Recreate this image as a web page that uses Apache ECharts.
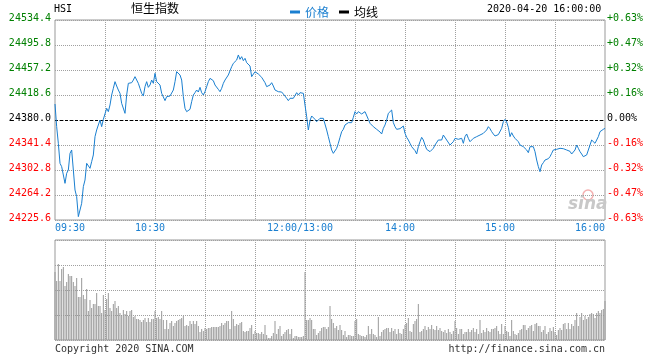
<!DOCTYPE html>
<html>
<head>
<meta charset="utf-8">
<script src="https://cdn.jsdelivr.net/npm/echarts@6/dist/echarts.min.js"></script>
<style>
html,body{margin:0;padding:0;background:#fff;}
#c{width:660px;height:360px;}
</style>
</head>
<body>
<div id="c"></div>
<script>
// ---- data ----
const prevClose = 24380.0;
const priceMin = 24225.6;
const priceMax = 24534.4;
const priceStep = 38.6;
const tickCats = ['09:30', '10:30', '12:00', '14:00', '15:00', '16:00'];
const tickText = ['09:30', '10:30', '12:00/13:00', '14:00', '15:00', '16:00'];

const price = [
24404.7,24369.7,24344.0,24313.1,24308.0,24310.5,24282.2,24297.7,24302.8,24328.5,
24333.7,24302.8,24271.9,24261.6,24230.8,24228.2,24251.3,24277.1,24287.3,24313.1,
24315.7,24305.4,24315.7,24326.0,24354.3,24364.6,24372.3,24380.0,24369.7,24381.0,
24382.6,24398.0,24392.9,24403.2,24418.6,24428.9,24439.2,24432.5,24426.3,24421.2,
24405.7,24408.3,24390.3,24418.6,24436.6,24439.2,24437.6,24441.7,24446.9,24444.3,
24436.6,24428.9,24421.2,24417.0,24431.5,24439.2,24430.4,24434.0,24441.7,24436.6,
24452.1,24439.2,24441.7,24434.0,24421.2,24422.2,24409.9,24416.0,24416.0,24417.0,
24418.6,24426.3,24439.2,24454.6,24456.2,24449.5,24441.7,24416.0,24398.0,24392.9,
24392.9,24396.5,24408.3,24418.6,24422.2,24426.3,24423.2,24430.4,24422.2,24418.6,
24423.7,24431.5,24439.2,24444.3,24446.9,24440.7,24434.0,24432.5,24427.3,24423.7,
24428.9,24436.6,24441.7,24444.3,24449.5,24451.0,24462.3,24467.5,24468.5,24472.6,
24480.4,24473.7,24477.8,24471.6,24475.2,24468.5,24467.5,24463.4,24446.9,24444.3,
24454.6,24457.2,24451.0,24449.5,24445.9,24444.3,24437.6,24431.5,24431.5,24434.0,
24437.6,24432.5,24426.3,24427.3,24423.7,24426.3,24423.2,24421.2,24417.0,24413.5,
24409.9,24413.5,24410.9,24413.5,24416.0,24422.2,24418.6,24422.2,24421.2,24421.2,
24418.6,
24385.1,24364.6,24379.0,24386.2,24387.7,24381.0,24377.4,24380.0,24382.6,24384.1,
24382.6,24380.0,24364.6,24354.3,24344.0,24333.7,24328.5,24327.5,24336.3,24344.0,
24353.2,24362.0,24365.6,24372.3,24374.9,24375.9,24374.9,24375.9,24384.1,24392.9,
24389.3,24392.9,24390.3,24389.3,24391.3,24392.9,24395.4,24381.0,24374.9,24372.3,
24369.7,24368.7,24365.6,24363.6,24361.5,24358.4,24367.1,24372.3,24380.0,24390.3,
24392.9,24395.4,24375.9,24369.7,24365.6,24368.2,24366.6,24368.7,24370.7,24359.4,
24353.2,24349.1,24344.0,24338.8,24336.3,24332.7,24327.5,24338.8,24346.5,24353.2,
24349.1,24341.4,24334.7,24333.7,24331.1,24329.6,24336.3,24341.4,24344.0,24349.1,
24351.7,24349.1,24356.8,24354.3,24349.1,24351.7,24341.4,24344.0,24346.5,24351.7,
24349.1,24350.2,24351.7,24351.7,24344.0,24354.3,24358.4,24351.7,24346.5,24349.1,
24351.7,24351.2,24354.3,24353.2,24356.8,24359.4,24359.4,24361.5,24364.6,24369.7,
24366.6,24362.0,24358.4,24355.3,24354.3,24357.4,24359.4,24367.1,24377.4,24381.0,
24376.9,24368.7,24354.3,24360.4,24355.3,24351.7,24349.1,24346.5,24341.4,24338.8,
24338.8,24340.9,24333.7,24329.6,24338.8,24341.4,24338.8,24331.1,24318.2,24308.0,
24300.2,24310.5,24314.1,24318.2,24320.8,24320.3,24323.4,24328.5,24333.7,24335.7,
24334.7,24336.8,24336.3,24337.8,24335.7,24334.7,24333.7,24331.1,24331.6,24327.5,
24328.5,24333.7,24341.4,24336.3,24331.1,24327.5,24323.4,24320.8,24326.0,24333.7,
24341.4,24349.1,24351.7,24344.0,24346.5,24354.3,24362.0,24364.6,24365.6,24367.1
];

const volume = [
68,59,76,59,71,73,54,58,66,64,
64,58,54,62,43,43,62,45,41,51,
29,40,32,36,36,47,34,34,27,45,
30,41,47,32,29,36,39,32,34,27,
25,30,26,29,24,29,30,23,24,21,
21,20,18,20,22,18,22,18,21,21,
29,22,23,21,29,20,11,20,11,17,
19,14,17,19,20,21,22,24,14,15,
14,19,16,19,16,19,14,8,11,9,
12,11,12,12,13,13,13,13,13,14,
17,15,17,19,19,11,29,21,14,16,
15,17,18,9,8,9,9,12,15,6,
9,7,7,6,8,6,15,5,2,2,
4,7,19,6,11,14,4,6,8,10,
11,6,11,2,4,4,3,3,3,4,
68,
20,20,22,20,11,11,5,7,9,12,
13,13,11,13,34,21,17,12,14,10,
15,10,5,9,3,5,5,4,4,19,
21,6,5,4,4,3,5,14,6,11,
6,5,3,23,4,8,10,11,12,12,
8,12,9,11,6,11,7,6,11,15,
17,22,9,8,16,19,21,36,8,9,
11,14,10,13,11,15,11,10,14,10,
12,9,8,10,7,11,8,6,9,19,
12,6,11,11,6,8,8,11,8,10,
12,8,11,6,20,7,10,8,12,9,
8,11,11,12,14,9,6,16,6,14,
9,8,4,20,9,6,5,7,10,11,
15,15,10,12,14,15,9,16,17,14,
14,8,10,14,6,8,12,9,13,8,
5,10,12,10,16,17,11,17,11,16,
14,20,27,14,23,27,20,24,21,23,
26,27,26,22,27,29,27,30,31,39
];

// minute categories: 09:30..12:00, 13:01..16:00
function pad(n){return (n<10?'0':'')+n;}
const times = [];
for (let t = 9*60+30; t <= 12*60; t++) times.push(pad(Math.floor(t/60))+':'+pad(t%60));
for (let t = 13*60+1; t <= 16*60; t++) times.push(pad(Math.floor(t/60))+':'+pad(t%60));

const MONO = 'DejaVu Sans Mono';
const CJK = 'Noto Sans CJK SC';
const BLUE = '#1a7fd0';
const GRIDC = '#a0a0a0';
const DOT = {color: GRIDC, type: 'dotted', width: 1};

const chart = echarts.init(document.getElementById('c'), null, {renderer: 'canvas'});

const splitFn = function (idx) { return idx % 30 === 0 && idx !== 0 && idx !== times.length - 1; };
const labelFn = function (idx, val) { return tickCats.indexOf(val) >= 0; };

function pctLabel(v) {
  const p = (v - prevClose) / prevClose * 100;
  if (Math.abs(p) < 0.001) return '0.00%';
  return (p > 0 ? '+' : '') + p.toFixed(2) + '%';
}
function valColor(v) {
  if (Math.abs(v - prevClose) < 0.01) return '#000000';
  return v > prevClose ? '#008000' : '#ff0000';
}

chart.setOption({
  animation: false,
  backgroundColor: '#ffffff',
  legend: {
    left: 285, top: 1,
    icon: 'rect', itemWidth: 10, itemHeight: 3, itemGap: 10,
    textStyle: {fontFamily: CJK, fontSize: 12},
    data: [
      {name: '价格', textStyle: {color: BLUE}},
      {name: '均线', textStyle: {color: '#000'}}
    ]
  },
  grid: [
    {left: 55, top: 20, width: 550, height: 200, show: true, borderColor: '#999', borderWidth: 1, z: 0},
    {left: 55, top: 240, width: 550, height: 100, show: true, borderColor: '#999', borderWidth: 1, z: 0}
  ],
  xAxis: [
    {
      type: 'category', gridIndex: 0, data: times, boundaryGap: false, z: 3,
      axisLine: {show: false}, axisTick: {show: false},
      axisLabel: {
        interval: labelFn, margin: 3, color: BLUE, fontFamily: MONO, fontSize: 10,
        showMinLabel: true, showMaxLabel: true,
        alignMinLabel: 'left', alignMaxLabel: 'right',
        formatter: function (val) {
          const i = tickCats.indexOf(val);
          if (i < 0) return '';
          if (i === 0 || i === tickCats.length - 1) return '{t|' + tickText[i] + '}';
          return '{t|' + tickText[i] + '}{s|}';
        },
        rich: {
          t: {color: BLUE, fontFamily: MONO, fontSize: 10},
          s: {width: 10}
        }
      },
      splitLine: {show: true, interval: splitFn, lineStyle: DOT}
    },
    {
      type: 'category', gridIndex: 1, data: times, boundaryGap: false, z: 3,
      axisLine: {show: false}, axisTick: {show: false}, axisLabel: {show: false},
      splitLine: {show: true, interval: splitFn, lineStyle: DOT}
    }
  ],
  yAxis: [
    {
      type: 'value', gridIndex: 0, min: priceMin, max: priceMax, interval: priceStep, z: 3,
      axisLine: {show: false}, axisTick: {show: false},
      axisLabel: {
        margin: 4, fontFamily: MONO, fontSize: 10, verticalAlign: 'bottom', lineHeight: 3,
        formatter: function (v) { return v.toFixed(1); },
        color: function (v) { return valColor(Number(v)); }
      },
      splitLine: {show: true, lineStyle: DOT}
    },
    {
      type: 'value', gridIndex: 0, position: 'right', min: priceMin, max: priceMax, interval: priceStep,
      axisLine: {show: false}, axisTick: {show: false},
      axisLabel: {
        margin: 2, fontFamily: MONO, fontSize: 10, verticalAlign: 'bottom', lineHeight: 3,
        formatter: function (v) { return pctLabel(v); },
        color: function (v) { return valColor(Number(v)); }
      },
      splitLine: {show: false}
    },
    {
      type: 'value', gridIndex: 1, min: 0, max: 100, interval: 25, z: 3,
      axisLine: {show: false}, axisTick: {show: false}, axisLabel: {show: false},
      splitLine: {show: true, lineStyle: DOT}
    }
  ],
  series: [
    {
      name: '价格', type: 'line', xAxisIndex: 0, yAxisIndex: 0, data: price,
      showSymbol: false, symbol: 'none', color: BLUE,
      lineStyle: {color: BLUE, width: 1},
      markLine: {
        silent: true, symbol: ['none', 'none'], label: {show: false},
        lineStyle: {color: '#000', type: [3, 2], width: 1},
        data: [{yAxis: prevClose}]
      },
      z: 5
    },
    {
      name: '均线', type: 'line', xAxisIndex: 0, yAxisIndex: 0, data: [],
      showSymbol: false, color: '#000', lineStyle: {color: '#000', width: 1}
    },
    {
      name: '成交量', type: 'bar', xAxisIndex: 1, yAxisIndex: 2, data: volume,
      barWidth: 1, itemStyle: {color: '#999999'}, silent: true, z: 4
    }
  ],
  graphic: [
    {type: 'text', left: 54, top: 4, style: {text: 'HSI', font: '10px "DejaVu Sans Mono"', fill: '#000'}},
    {type: 'text', left: 131, top: 2, style: {text: '恒生指数', font: '12px "Noto Sans CJK SC"', fill: '#000'}},
    {type: 'text', left: 487, top: 4, style: {text: '2020-04-20 16:00:00', font: '10px "DejaVu Sans Mono"', fill: '#000'}},
    {type: 'text', left: 55, top: 344, style: {text: 'Copyright 2020 SINA.COM', font: '10px "DejaVu Sans Mono"', fill: '#333'}},
    {type: 'text', right: 55, top: 344, style: {text: 'http://finance.sina.com.cn', font: '10px "DejaVu Sans Mono"', fill: '#333'}},
    {type: 'circle', shape: {cx: 588, cy: 195, r: 5}, style: {fill: 'none', stroke: '#f4b0b0', lineWidth: 1.5}, z: 1},
    {type: 'text', left: 568, top: 196, style: {text: 'sina', font: 'italic bold 17px "DejaVu Sans"', fill: '#c8c8c8'}, z: 1}
  ]
});
</script>
</body>
</html>
